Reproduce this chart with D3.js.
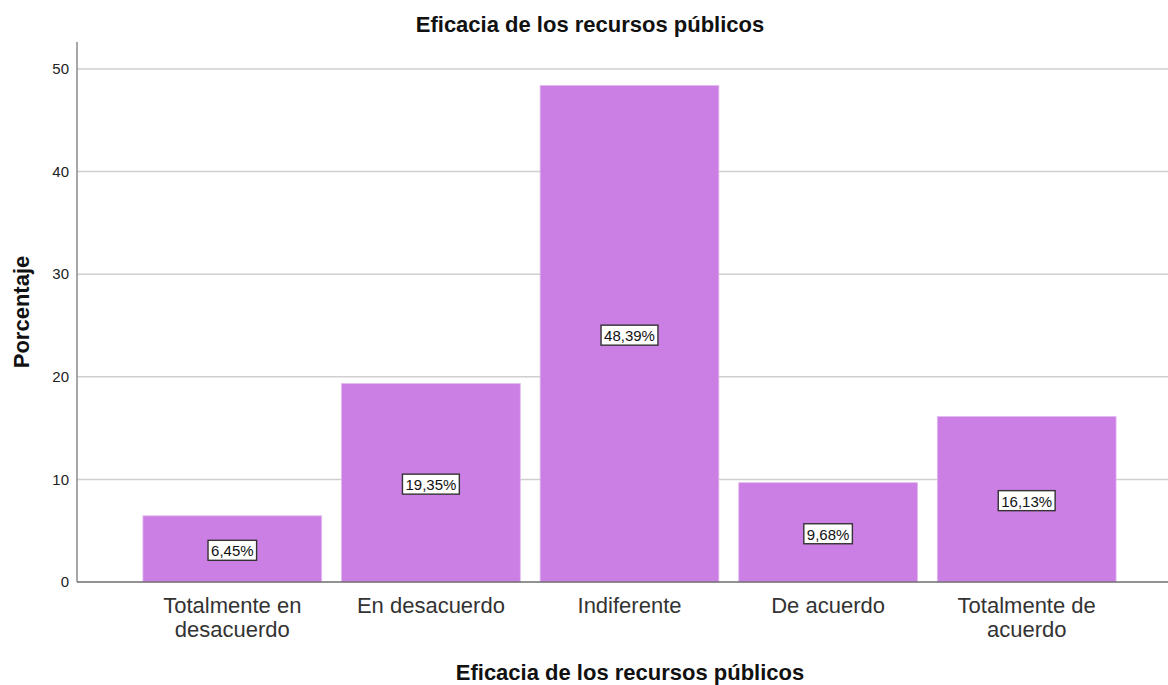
<!DOCTYPE html>
<html><head><meta charset="utf-8">
<script src="https://cdn.jsdelivr.net/npm/d3@7"></script>
<style>body{margin:0;background:#fff;} svg{display:block;font-family:"Liberation Sans",Arial,sans-serif;}</style>
</head><body>
<svg id="c" width="1168" height="685"></svg>
<script>
const categories = [["Totalmente en","desacuerdo"],["En desacuerdo"],["Indiferente"],["De acuerdo"],["Totalmente de","acuerdo"]];
const values = [6.45, 19.35, 48.39, 9.68, 16.13];
const valueLabels = ["6,45%","19,35%","48,39%","9,68%","16,13%"];
const yTicks = [0,10,20,30,40,50];
const title = "Eficacia de los recursos públicos";
const xTitle = "Eficacia de los recursos públicos";
const yTitle = "Porcentaje";

const svg = d3.select("#c");
const axisX = 77, plotTop = 42, plotBottom = 582, plotRight = 1168;
const y = d3.scaleLinear().domain([0,50]).range([plotBottom, 69]);
const x = d3.scaleBand().domain(d3.range(values.length)).range([133, 1126]).paddingInner(0.1).paddingOuter(0.05);

// gridlines
svg.append("g").selectAll("line").data(yTicks.filter(d=>d>0)).join("line")
  .attr("x1", axisX).attr("x2", plotRight).attr("y1", d=>y(d)).attr("y2", d=>y(d))
  .attr("stroke", "#cfcfcf").attr("stroke-width", 1.5);

// bars
svg.append("g").selectAll("rect").data(values).join("rect")
  .attr("x", (d,i)=>x(i)).attr("width", x.bandwidth())
  .attr("y", d=>y(d)).attr("height", d=>plotBottom - y(d))
  .attr("fill", "#cb7fe4").attr("stroke", "#e3b8f0").attr("stroke-width", 0.8);

// axes lines
svg.append("line").attr("x1", axisX).attr("x2", axisX).attr("y1", plotTop).attr("y2", plotBottom)
  .attr("stroke", "#8a8a8a").attr("stroke-width", 1.5);
svg.append("line").attr("x1", axisX).attr("x2", plotRight).attr("y1", plotBottom).attr("y2", plotBottom)
  .attr("stroke", "#6e6e6e").attr("stroke-width", 1.5);

// y tick labels
svg.append("g").selectAll("text").data(yTicks).join("text")
  .attr("x", axisX - 8).attr("y", d=>y(d)).attr("dy", "0.35em")
  .attr("text-anchor", "end").attr("font-size", 15).attr("fill", "#222")
  .text(d=>d);

// value labels
const lab = svg.append("g").selectAll("g").data(values).join("g")
  .attr("transform", (d,i)=>`translate(${x(i)+x.bandwidth()/2},${(y(d)+plotBottom)/2 + 2})`);
lab.append("text").attr("text-anchor","middle").attr("dy","0.36em")
  .attr("font-size", 15).attr("fill", "#111").text((d,i)=>valueLabels[i])
  .each(function(){
    const b = this.getBBox();
    d3.select(this.parentNode).insert("rect","text")
      .attr("x", b.x-3).attr("y", b.y-2).attr("width", b.width+6).attr("height", b.height+3)
      .attr("fill","#fff").attr("stroke","#333").attr("stroke-width",1.4);
  });

// x category labels
const xl = svg.append("g").selectAll("text").data(categories).join("text")
  .attr("text-anchor","middle").attr("font-size", 22).attr("fill", "#333")
  .attr("transform", (d,i)=>`translate(${x(i)+x.bandwidth()/2},613)`);
xl.selectAll("tspan").data(d=>d).join("tspan")
  .attr("x", 0).attr("dy", (d,j)=>j===0?0:24).text(d=>d);

// titles
svg.append("text").attr("x", 590).attr("y", 32).attr("text-anchor","middle")
  .attr("font-size", 22).attr("font-weight","bold").attr("fill","#111").text(title);
svg.append("text").attr("x", 630).attr("y", 680).attr("text-anchor","middle")
  .attr("font-size", 22).attr("font-weight","bold").attr("fill","#111").text(xTitle);
svg.append("text").attr("transform","translate(29,312) rotate(-90)").attr("text-anchor","middle")
  .attr("font-size", 22).attr("font-weight","bold").attr("fill","#111").text(yTitle);
</script>
</body></html>
